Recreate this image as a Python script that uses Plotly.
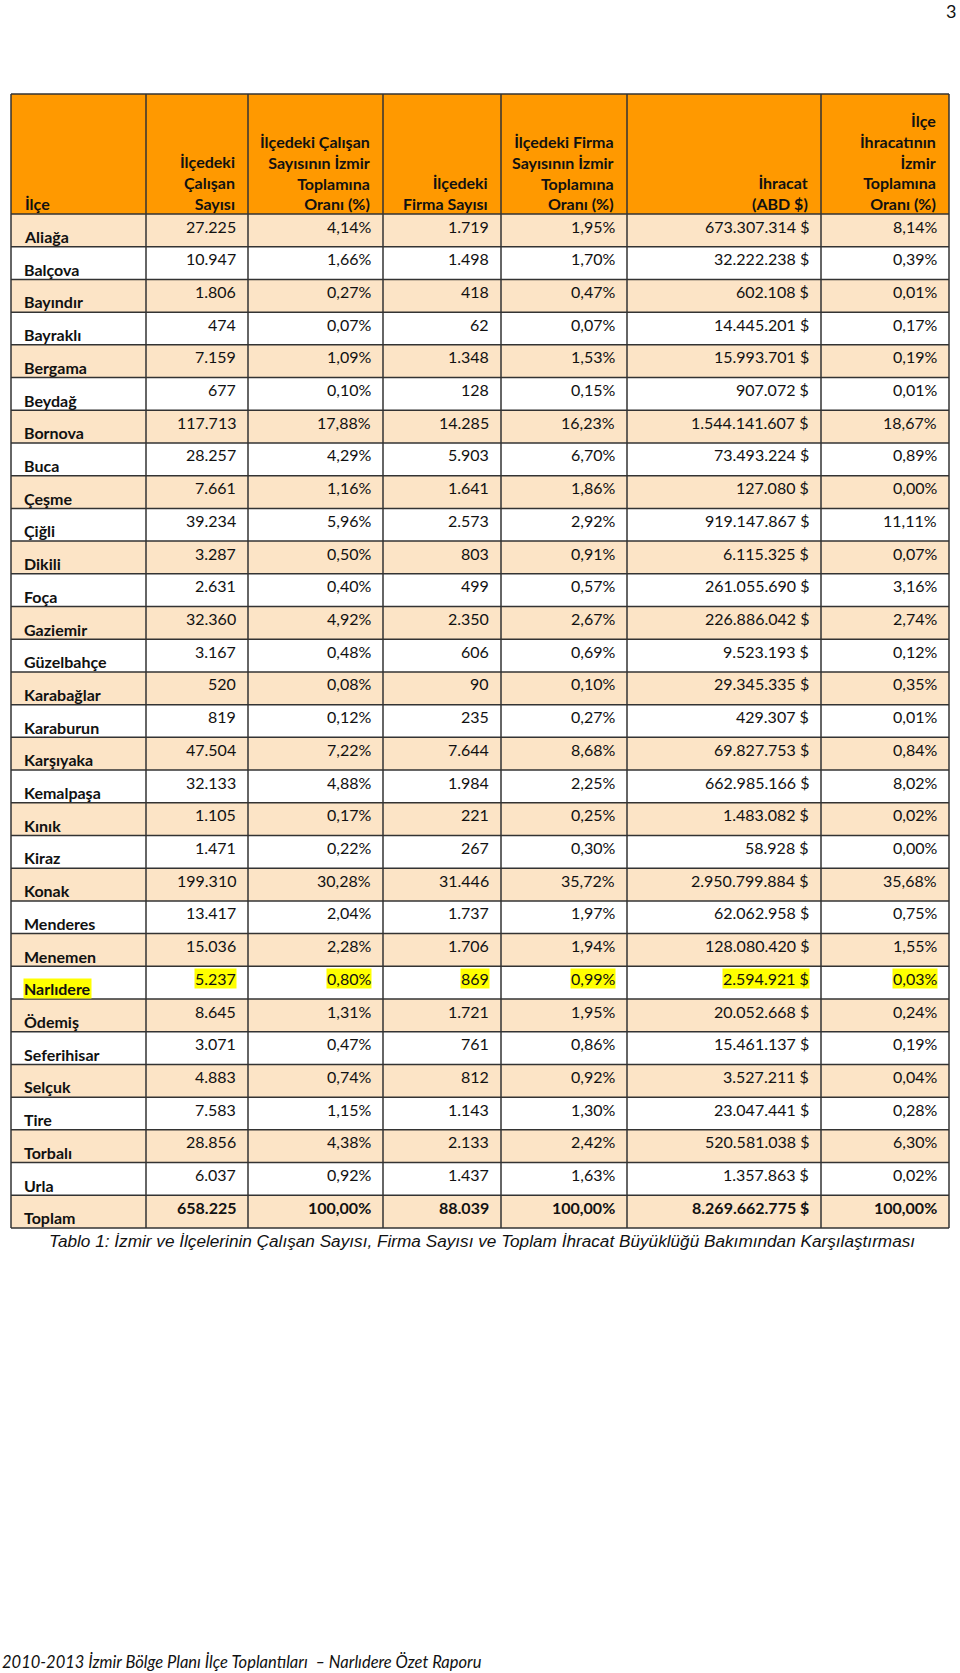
import plotly.graph_objects as go

# ---------------- data ----------------
districts = ["Aliağa", "Balçova", "Bayındır", "Bayraklı", "Bergama", "Beydağ", "Bornova", "Buca",
             "Çeşme", "Çiğli", "Dikili", "Foça", "Gaziemir", "Güzelbahçe", "Karabağlar", "Karaburun",
             "Karşıyaka", "Kemalpaşa", "Kınık", "Kiraz", "Konak", "Menderes", "Menemen", "Narlıdere",
             "Ödemiş", "Seferihisar", "Selçuk", "Tire", "Torbalı", "Urla"]
calisan = [27225, 10947, 1806, 474, 7159, 677, 117713, 28257, 7661, 39234, 3287, 2631, 32360, 3167,
           520, 819, 47504, 32133, 1105, 1471, 199310, 13417, 15036, 5237, 8645, 3071, 4883, 7583,
           28856, 6037]
calisan_pct = [4.14, 1.66, 0.27, 0.07, 1.09, 0.10, 17.88, 4.29, 1.16, 5.96, 0.50, 0.40, 4.92, 0.48,
               0.08, 0.12, 7.22, 4.88, 0.17, 0.22, 30.28, 2.04, 2.28, 0.80, 1.31, 0.47, 0.74, 1.15,
               4.38, 0.92]
firma = [1719, 1498, 418, 62, 1348, 128, 14285, 5903, 1641, 2573, 803, 499, 2350, 606, 90, 235, 7644,
         1984, 221, 267, 31446, 1737, 1706, 869, 1721, 761, 812, 1143, 2133, 1437]
firma_pct = [1.95, 1.70, 0.47, 0.07, 1.53, 0.15, 16.23, 6.70, 1.86, 2.92, 0.91, 0.57, 2.67, 0.69,
             0.10, 0.27, 8.68, 2.25, 0.25, 0.30, 35.72, 1.97, 1.94, 0.99, 1.95, 0.86, 0.92, 1.30,
             2.42, 1.63]
ihracat = [673307314, 32222238, 602108, 14445201, 15993701, 907072, 1544141607, 73493224, 127080,
           919147867, 6115325, 261055690, 226886042, 9523193, 29345335, 429307, 69827753, 662985166,
           1483082, 58928, 2950799884, 62062958, 128080420, 2594921, 20052668, 15461137, 3527211,
           23047441, 520581038, 1357863]
ihracat_pct = [8.14, 0.39, 0.01, 0.17, 0.19, 0.01, 18.67, 0.89, 0.00, 11.11, 0.07, 3.16, 2.74, 0.12,
               0.35, 0.01, 0.84, 8.02, 0.02, 0.00, 35.68, 0.75, 1.55, 0.03, 0.24, 0.19, 0.04, 0.28,
               6.30, 0.02]
total_label = "Toplam"
total_calisan = 658225
total_calisan_pct = 100.00
total_firma = 88039
total_firma_pct = 100.00
total_ihracat = 8269662775
total_ihracat_pct = 100.00
highlight = "Narlıdere"

headers = ["İlçe", "İlçedeki<br>Çalışan<br>Sayısı",
           "İlçedeki Çalışan<br>Sayısının İzmir<br>Toplamına<br>Oranı (%)",
           "İlçedeki<br>Firma Sayısı",
           "İlçedeki Firma<br>Sayısının İzmir<br>Toplamına<br>Oranı (%)",
           "İhracat<br>(ABD $)",
           "İlçe<br>İhracatının<br>İzmir<br>Toplamına<br>Oranı (%)"]
caption = ("Tablo 1: İzmir ve İlçelerinin Çalışan Sayısı, Firma Sayısı ve Toplam İhracat "
           "Büyüklüğü Bakımından Karşılaştırması")
footer = "2010-2013 İzmir Bölge Planı İlçe Toplantıları  – Narlıdere Özet Raporu"
page_no = "3"


def f_int(n):
    return f"{n:,}".replace(",", ".")


def f_pct(p):
    return f"{p:.2f}".replace(".", ",") + "%"


def f_usd(n):
    return f_int(n) + " $"


rows = []
for i, d in enumerate(districts):
    rows.append([d, f_int(calisan[i]), f_pct(calisan_pct[i]), f_int(firma[i]), f_pct(firma_pct[i]),
                 f_usd(ihracat[i]), f_pct(ihracat_pct[i])])
rows.append([total_label, f_int(total_calisan), f_pct(total_calisan_pct), f_int(total_firma),
             f_pct(total_firma_pct), f_usd(total_ihracat), f_pct(total_ihracat_pct)])

# ---------------- layout geometry ----------------
W, H = 960, 1673
col_edges = [11, 146, 248, 383, 501, 627, 821, 949]
head_top, head_bot = 94, 214
tbl_bot = 1228
n_rows = len(rows)
row_h = (tbl_bot - head_bot) / n_rows

ORANGE = "#FF9900"
PEACH = "#FCE4C6"
LINE = "#333333"
TXT = "#111111"
FONT = "Lato"

shapes = []
annots = []

# header background
shapes.append(dict(type="rect", xref="x", yref="y", x0=col_edges[0], x1=col_edges[-1],
                   y0=head_top, y1=head_bot, fillcolor=ORANGE, line=dict(width=0), layer="below"))
# row backgrounds
for r in range(n_rows):
    y0 = head_bot + r * row_h
    shapes.append(dict(type="rect", xref="x", yref="y", x0=col_edges[0], x1=col_edges[-1],
                       y0=y0, y1=y0 + row_h, fillcolor=PEACH if r % 2 == 0 else "white",
                       line=dict(width=0), layer="below"))
# horizontal lines
ys = [head_top, head_bot] + [head_bot + (r + 1) * row_h for r in range(n_rows)]
for y in ys:
    shapes.append(dict(type="line", xref="x", yref="y", x0=col_edges[0], x1=col_edges[-1],
                       y0=y, y1=y, line=dict(color=LINE, width=1.5)))
# vertical lines
for x in col_edges:
    shapes.append(dict(type="line", xref="x", yref="y", x0=x, x1=x, y0=head_top, y1=tbl_bot,
                       line=dict(color=LINE, width=1.5)))

PAD = 11.5
# header text
for c, h in enumerate(headers):
    if c == 0:
        x, xa, al = col_edges[0] + PAD, "left", "left"
    else:
        x, xa, al = col_edges[c + 1] - PAD, "right", "right"
    annots.append(dict(x=x, y=head_bot + 1, xref="x", yref="y", xanchor=xa, yanchor="bottom",
                       text=h, align=al, showarrow=False,
                       font=dict(family=FONT, size=16, color=TXT, weight="bold")))

# body text
for r, row in enumerate(rows):
    y0 = head_bot + r * row_h
    is_total = r == n_rows - 1
    hl = row[0] == highlight
    for c, val in enumerate(row):
        bg = "#FFFF00" if hl else "rgba(0,0,0,0)"
        if c == 0:
            annots.append(dict(x=col_edges[0] + PAD, y=y0 + 22.5, xref="x", yref="y",
                               xanchor="left", yanchor="middle", text=val, showarrow=False,
                               bgcolor=bg, borderpad=0,
                               font=dict(family=FONT, size=16, color=TXT, weight="bold")))
        else:
            annots.append(dict(x=col_edges[c + 1] - PAD, y=y0 + 12, xref="x", yref="y",
                               xanchor="right", yanchor="middle", text=val, showarrow=False,
                               bgcolor=bg, borderpad=0,
                               font=dict(family=FONT, size=16, color=TXT,
                                         weight="bold" if is_total else "normal")))

# caption, footer, page number
annots.append(dict(x=(col_edges[0] + col_edges[-1]) / 2 + 2, y=1241, xref="x", yref="y",
                   xanchor="center", yanchor="middle", text=caption, showarrow=False,
                   font=dict(family="Liberation Sans", size=17.2, color=TXT, style="italic")))
annots.append(dict(x=0, y=1662, xref="x", yref="y", xanchor="left", yanchor="middle",
                   text=footer, showarrow=False,
                   font=dict(family=FONT, size=16.5, color=TXT, style="italic")))
annots.append(dict(x=958, y=11, xref="x", yref="y", xanchor="right", yanchor="middle",
                   text=page_no, showarrow=False,
                   font=dict(family=FONT, size=18, color=TXT)))

fig = go.Figure(go.Scatter(x=[], y=[], mode="markers", showlegend=False))
fig.update_layout(width=W, height=H, margin=dict(l=0, r=0, t=0, b=0),
                  paper_bgcolor="white", plot_bgcolor="white",
                  xaxis=dict(range=[0, W], visible=False, fixedrange=True),
                  yaxis=dict(range=[H, 0], visible=False, fixedrange=True),
                  shapes=shapes, annotations=annots, showlegend=False)
fig.write_html("out.html", config={"displayModeBar": False},
               post_script="document.body.style.margin='0';document.body.style.overflow='hidden';")
